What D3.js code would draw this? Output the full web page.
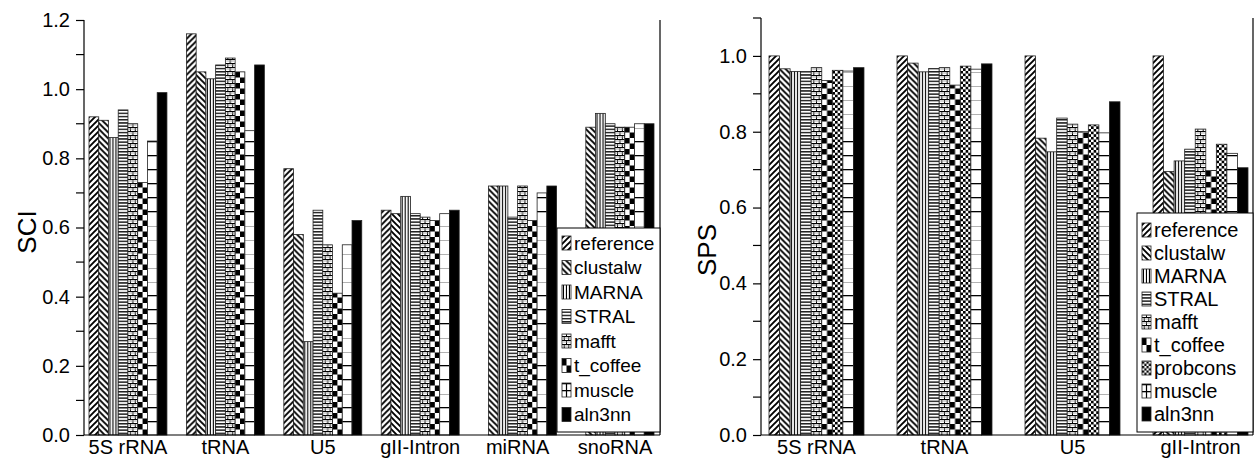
<!DOCTYPE html>
<html>
<head>
<meta charset="utf-8">
<script src="https://cdn.jsdelivr.net/npm/d3@7"></script>
<style>
  html, body { margin: 0; padding: 0; background: #fff; }
  svg { display: block; font-family: "Liberation Sans", Arial, Helvetica, sans-serif; }
</style>
</head>
<body>
<svg id="fig" width="1254" height="459"></svg>
<script>
// ---- SCI panel ----
const sciCategories = ["5S rRNA", "tRNA", "U5", "gII-Intron", "miRNA", "snoRNA"];
const sciSeries = ["reference", "clustalw", "MARNA", "STRAL", "mafft", "t_coffee", "muscle", "aln3nn"];
const sciReference = [0.92, 1.16, 0.77, 0.65, null, null];
const sciClustalw  = [0.91, 1.05, 0.58, 0.64, 0.72, 0.89];
const sciMarna     = [0.86, 1.03, 0.27, 0.69, 0.72, 0.93];
const sciStral     = [0.94, 1.07, 0.65, 0.64, 0.63, 0.90];
const sciMafft     = [0.90, 1.09, 0.55, 0.63, 0.72, 0.89];
const sciTcoffee   = [0.73, 1.05, 0.41, 0.62, 0.62, 0.89];
const sciMuscle    = [0.85, 0.88, 0.55, 0.64, 0.70, 0.90];
const sciAln3nn    = [0.99, 1.07, 0.62, 0.65, 0.72, 0.90];
const sciTicks = [0.0, 0.2, 0.4, 0.6, 0.8, 1.0, 1.2];

// ---- SPS panel ----
const spsCategories = ["5S rRNA", "tRNA", "U5", "gII-Intron"];
const spsSeries = ["reference", "clustalw", "MARNA", "STRAL", "mafft", "t_coffee", "probcons", "muscle", "aln3nn"];
const spsReference = [1.000, 1.000, 1.000, 1.000];
const spsClustalw  = [0.966, 0.981, 0.783, 0.695];
const spsMarna     = [0.959, 0.958, 0.747, 0.723];
const spsStral     = [0.959, 0.967, 0.836, 0.754];
const spsMafft     = [0.969, 0.969, 0.820, 0.807];
const spsTcoffee   = [0.935, 0.923, 0.800, 0.698];
const spsProbcons  = [0.962, 0.973, 0.818, 0.767];
const spsMuscle    = [0.960, 0.965, 0.797, 0.743];
const spsAln3nn    = [0.969, 0.979, 0.879, 0.705];
const spsTicks = [0.0, 0.2, 0.4, 0.6, 0.8, 1.0];

const sciValues = [sciReference, sciClustalw, sciMarna, sciStral, sciMafft, sciTcoffee, sciMuscle, sciAln3nn];
const spsValues = [spsReference, spsClustalw, spsMarna, spsStral, spsMafft, spsTcoffee, spsProbcons, spsMuscle, spsAln3nn];

const FONT = '"Liberation Sans", Arial, Helvetica, sans-serif';
const svg = d3.select("#fig");
const defs = svg.append("defs");
let patternCount = 0;

// Fill pattern for one method, anchored at the bar's own left/bottom corner.
function makePattern(method, x, yBase, w, swatch) {
  const id = "pat" + (patternCount++);
  const ink = "#000";
  let pw = w, ph = 6;
  const p = defs.append("pattern")
    .attr("id", id)
    .attr("patternUnits", "userSpaceOnUse")
    .attr("x", x).attr("y", yBase);
  const g = p.append("g");
  const bg = (W, H) => g.append("rect").attr("width", W).attr("height", H).attr("fill", "#fff");
  switch (method) {
    case "reference": {
      pw = 6; ph = 6; bg(pw, ph);
      g.append("path").attr("d", "M-1.5,1.5 L1.5,-1.5 M0,6 L6,0 M4.5,7.5 L7.5,4.5")
        .attr("stroke", ink).attr("stroke-width", 1.9);
      break;
    }
    case "clustalw": {
      pw = 6; ph = 6; bg(pw, ph);
      g.append("path").attr("d", "M-1.5,4.5 L1.5,7.5 M0,0 L6,6 M4.5,-1.5 L7.5,1.5")
        .attr("stroke", ink).attr("stroke-width", 1.9);
      break;
    }
    case "MARNA": {
      pw = 3; ph = 4; bg(pw, ph);
      g.append("rect").attr("x", 0.9).attr("width", 1.1).attr("height", ph).attr("fill", ink);
      break;
    }
    case "STRAL": {
      pw = w; ph = 3.2; bg(pw, ph);
      g.append("rect").attr("y", 0.9).attr("width", pw).attr("height", 1.3).attr("fill", ink);
      break;
    }
    case "mafft": {
      pw = w; ph = 8; bg(pw, ph);
      g.append("rect").attr("y", 0).attr("width", pw).attr("height", 1).attr("fill", ink);
      g.append("rect").attr("y", 4).attr("width", pw).attr("height", 1).attr("fill", ink);
      g.append("rect").attr("x", pw / 2 - 0.5).attr("y", 0).attr("width", 1).attr("height", 4).attr("fill", ink);
      g.append("rect").attr("x", pw / 4 - 0.5).attr("y", 4).attr("width", 1).attr("height", 4).attr("fill", ink);
      g.append("rect").attr("x", 3 * pw / 4 - 0.5).attr("y", 4).attr("width", 1).attr("height", 4).attr("fill", ink);
      g.append("rect").attr("x", 1).attr("y", 1.6).attr("width", pw - 2).attr("height", 0.8).attr("fill", "#999");
      g.append("rect").attr("x", 1).attr("y", 5.6).attr("width", pw - 2).attr("height", 0.8).attr("fill", "#999");
      break;
    }
    case "t_coffee": {
      pw = w; ph = swatch ? 14 : 11; bg(pw, ph);
      g.append("rect").attr("x", 0).attr("y", 0).attr("width", pw / 2).attr("height", ph / 2).attr("fill", ink);
      g.append("rect").attr("x", pw / 2).attr("y", ph / 2).attr("width", pw / 2).attr("height", ph / 2).attr("fill", ink);
      break;
    }
    case "probcons": {
      pw = w / 2; ph = pw; bg(pw, ph);
      g.append("rect").attr("x", 0).attr("y", 0).attr("width", pw / 2).attr("height", ph / 2).attr("fill", ink);
      g.append("rect").attr("x", pw / 2).attr("y", ph / 2).attr("width", pw / 2).attr("height", ph / 2).attr("fill", ink);
      break;
    }
    case "muscle": {
      pw = w; ph = swatch ? 7 : 14; bg(pw, ph);
      g.append("rect").attr("y", 0).attr("width", pw).attr("height", 1.3).attr("fill", ink);
      if (swatch) {
        g.append("rect").attr("x", pw / 2 - 0.6).attr("width", 1.2).attr("height", ph).attr("fill", ink);
      }
      break;
    }
    default: { // aln3nn: solid
      pw = 4; ph = 4;
      g.append("rect").attr("width", pw).attr("height", ph).attr("fill", ink);
    }
  }
  p.attr("width", pw).attr("height", ph);
  return "url(#" + id + ")";
}

function drawPanel(cfg) {
  const g = svg.append("g");
  const y = d3.scaleLinear().domain([0, cfg.max]).range([cfg.yBottom, cfg.yTop]);
  const x0 = d3.scaleBand().domain(cfg.categories).range([cfg.bandStart, cfg.bandEnd])
    .paddingInner(cfg.padInner).paddingOuter(0);
  const x1 = d3.scaleBand().domain(cfg.series).range([0, x0.bandwidth()]);

  // bars
  cfg.categories.forEach((cat, ci) => {
    cfg.series.forEach((s, si) => {
      const v = cfg.values[si][ci];
      if (v == null) return;
      const bx = x0(cat) + x1(s);
      const bw = x1.bandwidth();
      g.append("rect")
        .attr("x", bx).attr("y", y(v))
        .attr("width", bw).attr("height", y(0) - y(v))
        .attr("fill", makePattern(s, bx, cfg.yBottom, bw, false))
        .attr("stroke", "#222").attr("stroke-width", 0.8);
    });
  });

  // y axis with minor ticks
  const minor = d3.range(0.1, cfg.max + 1e-9, 0.2).map(v => +v.toFixed(2));
  const yAxis = d3.axisLeft(y).tickValues(cfg.ticks).tickFormat(d3.format(".1f")).tickSize(8).tickPadding(6);
  const ya = g.append("g").attr("transform", `translate(${cfg.x0},0)`).call(yAxis);
  ya.select(".domain").attr("d", `M0,${cfg.yTop}V${cfg.yBottom}`).attr("stroke", "#000").attr("stroke-width", 1.2);
  ya.selectAll(".tick line").attr("stroke", "#000").attr("stroke-width", 1.2);
  ya.selectAll(".tick text").attr("font-size", cfg.tickFont).attr("fill", "#000").attr("font-family", FONT);
  ya.selectAll(".minor").data(minor).enter().append("line")
    .attr("class", "minor")
    .attr("x1", -8).attr("x2", 0)
    .attr("y1", d => y(d)).attr("y2", d => y(d))
    .attr("stroke", "#000").attr("stroke-width", 1.2);

  // x axis line and right border
  g.append("line").attr("x1", cfg.x0).attr("x2", cfg.x1).attr("y1", cfg.yBottom).attr("y2", cfg.yBottom)
    .attr("stroke", "#000").attr("stroke-width", 1.2);
  g.append("line").attr("x1", cfg.x1).attr("x2", cfg.x1).attr("y1", cfg.yTop).attr("y2", cfg.yBottom)
    .attr("stroke", "#000").attr("stroke-width", 1.2);

  // category labels
  const xAxis = d3.axisBottom(x0).tickSize(0).tickPadding(5);
  const xa = g.append("g").attr("transform", `translate(0,${cfg.yBottom})`).call(xAxis);
  xa.select(".domain").remove();
  xa.selectAll(".tick text").attr("font-size", cfg.tickFont).attr("fill", "#000").attr("font-family", FONT);

  // axis title
  g.append("text")
    .attr("transform", `translate(${cfg.titleX},${cfg.titleY}) rotate(-90)`)
    .attr("text-anchor", "middle")
    .attr("font-size", 26)
    .text(cfg.title);

  // legend
  const L = cfg.legend;
  g.append("rect").attr("x", L.x).attr("y", L.y).attr("width", L.w).attr("height", L.h)
    .attr("fill", "#fff").attr("stroke", "#000").attr("stroke-width", 1);
  cfg.series.forEach((s, i) => {
    const cy = L.firstY + i * L.step;
    const sx = L.x + 5, sw = 9, sh = 14;
    g.append("rect").attr("x", sx).attr("y", cy - sh / 2).attr("width", sw).attr("height", sh)
      .attr("fill", makePattern(s, sx, cy + sh / 2, sw, true))
      .attr("stroke", "#222").attr("stroke-width", 0.8);
    g.append("text").attr("x", sx + sw + 3).attr("y", cy).attr("dy", "0.35em")
      .attr("font-size", L.font).text(s);
  });
}

drawPanel({
  categories: sciCategories, series: sciSeries, values: sciValues, ticks: sciTicks,
  max: 1.2, x0: 84, x1: 660, yTop: 20, yBottom: 435,
  bandStart: 89, bandEnd: 654, padInner: 0.2, tickFont: 20,
  title: "SCI", titleX: 36, titleY: 232,
  legend: { x: 557, y: 228, w: 103, h: 204, firstY: 243, step: 24.5, font: 19 }
});

drawPanel({
  categories: spsCategories, series: spsSeries, values: spsValues, ticks: spsTicks,
  max: 1.1, x0: 761, x1: 1253, yTop: 18, yBottom: 435,
  bandStart: 769, bandEnd: 1248, padInner: 0.258, tickFont: 20,
  title: "SPS", titleX: 716, titleY: 250,
  legend: { x: 1137, y: 213, w: 116, h: 219, firstY: 230, step: 23, font: 20 }
});
</script>
</body>
</html>
